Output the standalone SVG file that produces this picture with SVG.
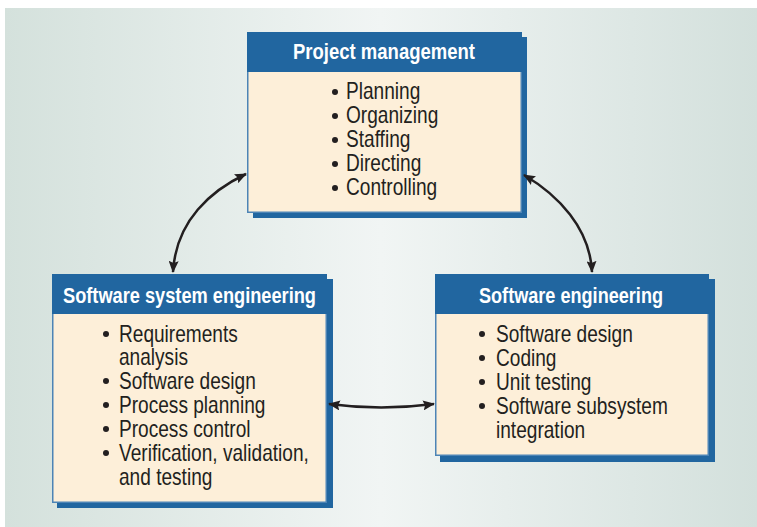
<svg xmlns="http://www.w3.org/2000/svg" width="757" height="527" viewBox="0 0 757 527">
<defs>
<linearGradient id="bg" x1="0" y1="0" x2="1" y2="0">
<stop offset="0" stop-color="#d4e1dc"/>
<stop offset="0.5" stop-color="#f1f5f4"/>
<stop offset="1" stop-color="#d3e0dc"/>
</linearGradient>
<marker id="ah" viewBox="0 0 12 10" refX="11" refY="5" markerWidth="12" markerHeight="10" markerUnits="userSpaceOnUse" orient="auto-start-reverse">
<path d="M0,0 L12,5 L0,10 L2,5 Z" fill="#231f20"/>
</marker>
<style>
.shadow{fill:#2166a0}
.frame{fill:#fdefd9;stroke:#4c84b6;stroke-width:1.5}
.head{fill:#2166a0}
.title{font-family:"Liberation Sans",Arial,sans-serif;font-weight:bold;font-size:22px;fill:#ffffff;text-anchor:middle}
.item{font-family:"Liberation Sans",Arial,sans-serif;font-size:23px;fill:#231f20}
.dot{fill:#231f20}
.conn{fill:none;stroke:#231f20;stroke-width:2.5}
</style>
</defs>
<rect x="5" y="8" width="752" height="519" fill="url(#bg)"/>
<g id="node-project-management">
<rect class="shadow" x="253" y="37" width="274" height="181"/>
<rect class="frame" x="247.75" y="32.75" width="273.5" height="179.5"/>
<rect class="head" x="247" y="32" width="275" height="40"/>
<text class="title" x="384" y="59" textLength="182" lengthAdjust="spacingAndGlyphs">Project management</text>
<circle class="dot" cx="335" cy="92" r="3"/>
<circle class="dot" cx="335" cy="116" r="3"/>
<circle class="dot" cx="335" cy="140" r="3"/>
<circle class="dot" cx="335" cy="164" r="3"/>
<circle class="dot" cx="335" cy="188" r="3"/>
<text class="item" transform="translate(346,99) scale(0.83,1)">Planning</text>
<text class="item" transform="translate(346,123) scale(0.83,1)">Organizing</text>
<text class="item" transform="translate(346,147) scale(0.83,1)">Staffing</text>
<text class="item" transform="translate(346,171) scale(0.83,1)">Directing</text>
<text class="item" transform="translate(346,195) scale(0.83,1)">Controlling</text>
</g>
<g id="node-software-system-engineering">
<rect class="shadow" x="57" y="279" width="276" height="229"/>
<rect class="frame" x="52.75" y="274.75" width="273.5" height="227.5"/>
<rect class="head" x="52" y="274" width="275" height="40"/>
<text class="title" x="189.5" y="303" textLength="253" lengthAdjust="spacingAndGlyphs">Software system engineering</text>
<circle class="dot" cx="106" cy="334" r="3"/>
<circle class="dot" cx="106" cy="381" r="3"/>
<circle class="dot" cx="106" cy="405" r="3"/>
<circle class="dot" cx="106" cy="429" r="3"/>
<circle class="dot" cx="106" cy="453" r="3"/>
<text class="item" transform="translate(119,342) scale(0.83,1)">Requirements</text>
<text class="item" transform="translate(119,365) scale(0.83,1)">analysis</text>
<text class="item" transform="translate(119,389) scale(0.83,1)">Software design</text>
<text class="item" transform="translate(119,413) scale(0.83,1)">Process planning</text>
<text class="item" transform="translate(119,437) scale(0.83,1)">Process control</text>
<text class="item" transform="translate(119,461) scale(0.83,1)">Verification, validation,</text>
<text class="item" transform="translate(119,485) scale(0.83,1)">and testing</text>
</g>
<g id="node-software-engineering">
<rect class="shadow" x="440" y="279" width="275" height="183"/>
<rect class="frame" x="435.75" y="274.75" width="272.5" height="180.5"/>
<rect class="head" x="435" y="274" width="274" height="40"/>
<text class="title" x="571" y="303" textLength="184" lengthAdjust="spacingAndGlyphs">Software engineering</text>
<circle class="dot" cx="482" cy="334" r="3"/>
<circle class="dot" cx="482" cy="358" r="3"/>
<circle class="dot" cx="482" cy="382" r="3"/>
<circle class="dot" cx="482" cy="406" r="3"/>
<text class="item" transform="translate(496,342) scale(0.83,1)">Software design</text>
<text class="item" transform="translate(496,366) scale(0.83,1)">Coding</text>
<text class="item" transform="translate(496,390) scale(0.83,1)">Unit testing</text>
<text class="item" transform="translate(496,414) scale(0.83,1)">Software subsystem</text>
<text class="item" transform="translate(496,438) scale(0.83,1)">integration</text>
</g>
<g id="connectors">
<path class="conn" d="M246,174 C212,190 176,220 173,272" marker-start="url(#ah)" marker-end="url(#ah)"/>
<path class="conn" d="M524,175 C558,195 590,228 592,272" marker-start="url(#ah)" marker-end="url(#ah)"/>
<path class="conn" d="M329,404 Q381,411 434,404" marker-start="url(#ah)" marker-end="url(#ah)"/>
</g>
</svg>
